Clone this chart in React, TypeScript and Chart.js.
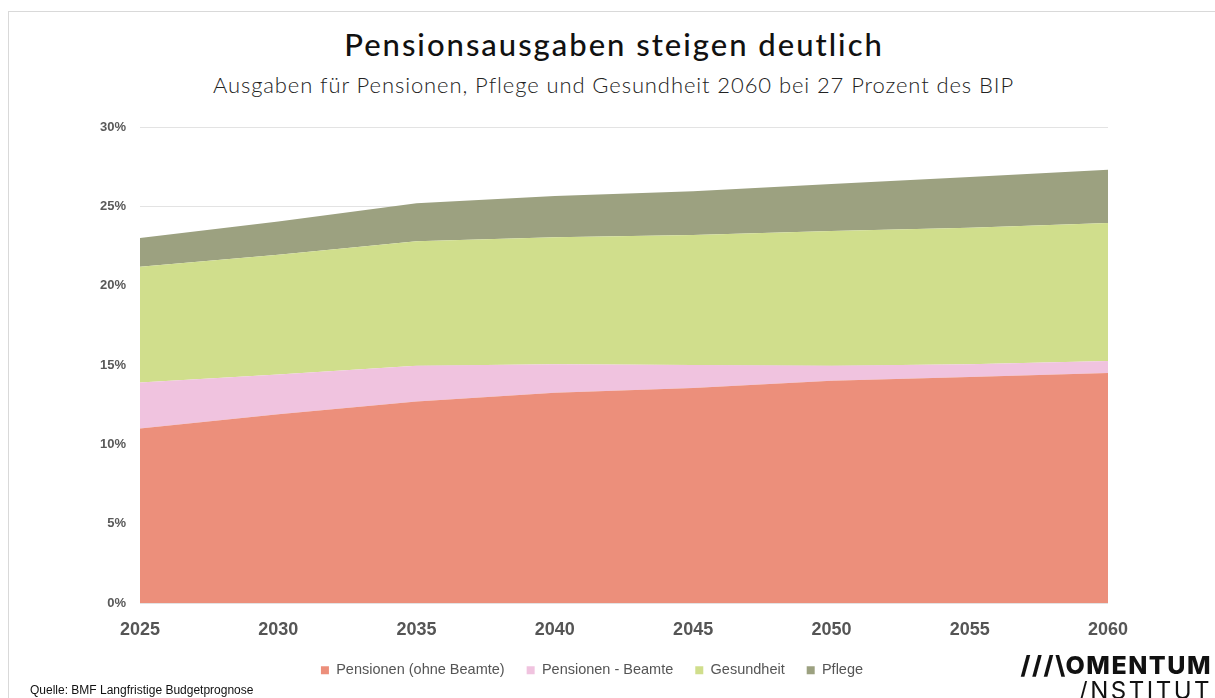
import React, { useEffect, useRef } from "react";
import { Chart, registerables } from "chart.js";

Chart.register(...registerables);

const years = ["2025", "2030", "2035", "2040", "2045", "2050", "2055", "2060"];
const pensionenOhneBeamte = [11.0, 11.9, 12.7, 13.25, 13.55, 14.0, 14.25, 14.5];
const pensionenBeamte = [2.9, 2.5, 2.25, 1.8, 1.45, 0.95, 0.8, 0.75];
const gesundheit = [7.3, 7.55, 7.85, 8.0, 8.2, 8.5, 8.6, 8.7];
const pflege = [1.8, 2.1, 2.4, 2.6, 2.75, 2.95, 3.2, 3.35];

const seriesNames = ["Pensionen (ohne Beamte)", "Pensionen - Beamte", "Gesundheit", "Pflege"];
const seriesColors = ["#EC8F7B", "#F0C3DF", "#D0DE8C", "#9CA180"];
const yTicks = [0, 5, 10, 15, 20, 25, 30];

export default function App() {
  const canvasRef = useRef<HTMLCanvasElement | null>(null);

  useEffect(() => {
    if (!canvasRef.current) return;
    const values = [pensionenOhneBeamte, pensionenBeamte, gesundheit, pflege];
    const chart = new Chart(canvasRef.current, {
      type: "line",
      data: {
        labels: years,
        datasets: values.map((v, i) => ({
          label: seriesNames[i],
          data: v,
          backgroundColor: seriesColors[i],
          borderColor: seriesColors[i],
          borderWidth: 0,
          pointRadius: 0,
          pointHoverRadius: 0,
          tension: 0,
          fill: i === 0 ? "origin" : "-1",
        })),
      },
      options: {
        animation: false,
        responsive: true,
        maintainAspectRatio: false,
        layout: { padding: { top: 127, left: 76, right: 107, bottom: 10.5 } },
        plugins: {
          title: { display: false },
          tooltip: { enabled: false },
          legend: {
            position: "bottom",
            labels: {
              boxWidth: 8,
              boxHeight: 8,
              padding: 22,
              color: "#555555",
              font: { family: "'Liberation Sans', Arial, sans-serif", size: 14.5 },
            },
          },
        },
        scales: {
          x: {
            offset: false,
            grid: { display: false, drawTicks: false },
            border: { display: false },
            ticks: {
              padding: 16,
              color: "#555555",
              font: { family: "'Liberation Sans', Arial, sans-serif", size: 18, weight: "bold" },
              maxRotation: 0,
            },
            afterFit: (s: any) => {
              s.height = 38;
            },
          },
          y: {
            stacked: true,
            min: 0,
            max: 30,
            afterBuildTicks: (s: any) => {
              s.ticks = yTicks.map((v) => ({ value: v }));
            },
            grid: { color: "#e3e3e3", drawTicks: false, lineWidth: 1 },
            border: { display: false },
            ticks: {
              padding: 14,
              color: "#595959",
              font: { family: "'Liberation Sans', Arial, sans-serif", size: 13, weight: "bold" },
              callback: (v: any) => v + "%",
            },
            afterFit: (s: any) => {
              s.width = 64;
            },
          },
        },
      },
    });
    return () => chart.destroy();
  }, []);

  return (
    <div style={{ position: "absolute", left: 0, top: 0, width: 1215, height: 698, background: "#fff", overflow: "hidden" }}>
      <div
        style={{
          position: "absolute",
          left: 8,
          top: 11,
          width: 1220,
          height: 700,
          borderTop: "1px solid #d9d9d9",
          borderLeft: "1px solid #d9d9d9",
        }}
      />
      <div
        style={{
          position: "absolute",
          left: 0,
          width: 1228,
          top: 26,
          textAlign: "center",
          fontFamily: "Lato, 'Noto Sans', sans-serif",
          fontSize: 31,
          lineHeight: "36px",
          fontWeight: 500,
          letterSpacing: 2,
          color: "#111",
        }}
      >
        Pensionsausgaben steigen deutlich
      </div>
      <div
        style={{
          position: "absolute",
          left: 0,
          width: 1227,
          top: 72,
          textAlign: "center",
          fontFamily: "Lato, 'Noto Sans', sans-serif",
          fontSize: 22,
          lineHeight: "26px",
          fontWeight: 300,
          letterSpacing: 0.9,
          color: "#222",
        }}
      >
        Ausgaben für Pensionen, Pflege und Gesundheit 2060 bei 27 Prozent des BIP
      </div>
      <div style={{ position: "absolute", left: 0, top: 0, width: 1215, height: 698 }}>
        <canvas ref={canvasRef} />
      </div>
      <div
        style={{
          position: "absolute",
          left: 30,
          top: 683,
          fontFamily: "'Liberation Sans', Arial, sans-serif",
          fontSize: 12,
          lineHeight: "14px",
          color: "#111",
        }}
      >
        Quelle: BMF Langfristige Budgetprognose
      </div>
      <div
        style={{
          position: "absolute",
          right: 3,
          top: 652,
          textAlign: "right",
          fontFamily: "Inter, 'Noto Sans', sans-serif",
          color: "#111",
        }}
      >
        <div style={{ fontSize: 25, fontWeight: 800, lineHeight: "27px", letterSpacing: 1.5 }}>///\OMENTUM</div>
        <div style={{ fontSize: 24, fontWeight: 400, lineHeight: "24px", letterSpacing: 2.5 }}>/NSTITUT</div>
      </div>
    </div>
  );
}
